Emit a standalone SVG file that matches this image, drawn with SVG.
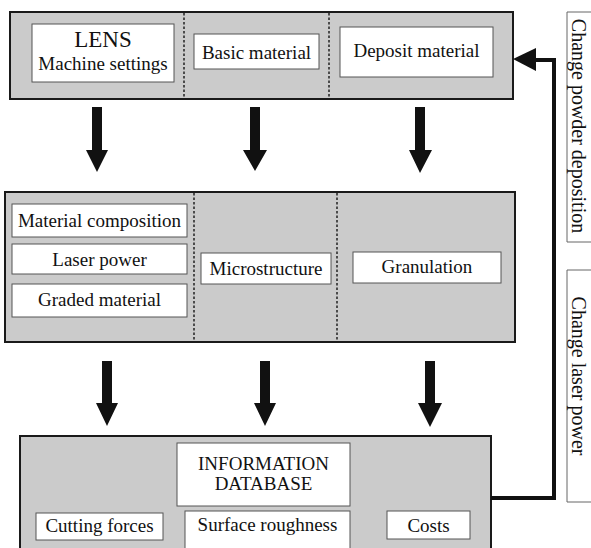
<svg xmlns="http://www.w3.org/2000/svg" width="591" height="548" viewBox="0 0 591 548">
<style>
.panel{fill:#cbcbcb;stroke:#1a1a1a;stroke-width:2}
.box{fill:#fff;stroke:#555;stroke-width:1}
.div{stroke:#222;stroke-width:1.5;stroke-dasharray:2.5 2}
.t{font-family:"Liberation Serif","Times New Roman",serif;font-size:19px;fill:#111;text-anchor:middle}
.big{font-size:23px}
.side{font-size:20px}
.sideline{fill:none;stroke:#666;stroke-width:1}
.arrow{fill:#111}
.fb{fill:none;stroke:#111;stroke-width:4}
</style>
<rect width="591" height="548" fill="#fff"/>
<g id="top-panel">
<rect class="panel" x="10" y="12" width="503" height="87"/>
<line class="div" x1="184" y1="13" x2="184" y2="98"/>
<line class="div" x1="329" y1="13" x2="329" y2="98"/>
</g>
<g id="lens">
<rect class="box" x="32" y="24" width="142" height="58"/>
<text class="t big" x="103" y="47">LENS</text>
<text class="t" x="103" y="70">Machine settings</text>
</g>
<g id="basic-material">
<rect class="box" x="194" y="34" width="125" height="35"/>
<text class="t" x="256.5" y="59">Basic material</text>
</g>
<g id="deposit-material">
<rect class="box" x="340" y="27" width="153" height="50"/>
<text class="t" x="416.5" y="57">Deposit material</text>
</g>
<g id="middle-panel">
<rect class="panel" x="5" y="192" width="510" height="150"/>
<line class="div" x1="194" y1="193" x2="194" y2="341"/>
<line class="div" x1="337" y1="193" x2="337" y2="341"/>
</g>
<g id="material-composition">
<rect class="box" x="12" y="204" width="175" height="33"/>
<text class="t" x="99.5" y="227">Material composition</text>
</g>
<g id="laser-power">
<rect class="box" x="12" y="244" width="175" height="30"/>
<text class="t" x="99.5" y="266">Laser power</text>
</g>
<g id="graded-material">
<rect class="box" x="12" y="284" width="175" height="33"/>
<text class="t" x="99.5" y="306">Graded material</text>
</g>
<g id="microstructure">
<rect class="box" x="201" y="253" width="130" height="31"/>
<text class="t" x="266" y="275">Microstructure</text>
</g>
<g id="granulation">
<rect class="box" x="353" y="252" width="148" height="31"/>
<text class="t" x="427" y="273">Granulation</text>
</g>
<g id="bottom-panel">
<rect class="panel" x="20" y="436" width="471" height="130"/>
</g>
<g id="information-database">
<rect class="box" x="177" y="443" width="173" height="63"/>
<text class="t" x="263.5" y="470">INFORMATION</text>
<text class="t" x="263.5" y="490">DATABASE</text>
</g>
<g id="cutting-forces">
<rect class="box" x="36" y="513" width="127" height="27"/>
<text class="t" x="99.5" y="532">Cutting forces</text>
</g>
<g id="surface-roughness">
<rect class="box" x="185" y="511" width="165" height="40"/>
<text class="t" x="267.5" y="531">Surface roughness</text>
</g>
<g id="costs">
<rect class="box" x="387" y="511" width="83" height="28"/>
<text class="t" x="428.5" y="532">Costs</text>
</g>
<g id="label-powder">
<polyline class="sideline" points="591,12 567,12 567,242 591,242"/>
<text class="t side" transform="translate(572 126) rotate(90)">Change powder deposition</text>
</g>
<g id="label-laser">
<polyline class="sideline" points="591,270 567,270 567,502 591,502"/>
<text class="t side" transform="translate(572 376) rotate(90)">Change laser power</text>
</g>
<g id="connectors">
<polygon class="arrow" points="92,107 102,107 102,150 108,150 97,172 86,150 92,150"/>
<polygon class="arrow" points="250,107 260,107 260,150 267,150 255,171 243,150 250,150"/>
<polygon class="arrow" points="415,107 425,107 425,150 432,150 420,173 409,150 415,150"/>
<polygon class="arrow" points="102,361 112,361 112,403 118,403 107,426 96,403 102,403"/>
<polygon class="arrow" points="260,361 270,361 270,403 276,403 265,426 254,403 260,403"/>
<polygon class="arrow" points="425,361 435,361 435,403 442,403 430,427 418,403 425,403"/>
<polyline class="fb" points="491,498 554,498 554,60 534,60"/>
<polygon class="arrow" points="513,59 536,48 536,71"/>
</g>
</svg>
